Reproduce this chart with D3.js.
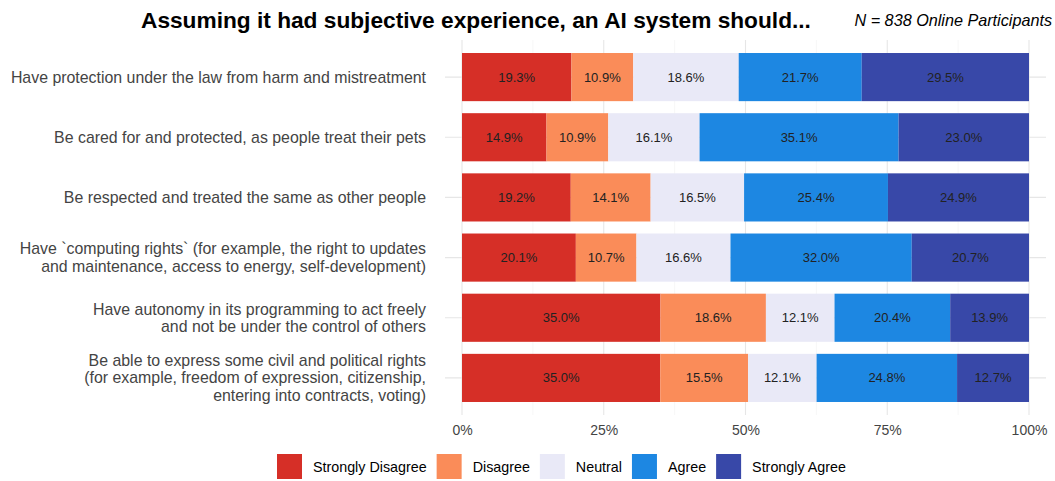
<!DOCTYPE html>
<html>
<head>
<meta charset="utf-8">
<script src="https://cdn.jsdelivr.net/npm/d3@7"></script>
<style>
  body { margin: 0; background: #fff; }
  text { font-family: "Liberation Sans", Arial, sans-serif; }
</style>
</head>
<body>
<div id="chart"></div>
<script>
// data
var categories = [
  ["Have protection under the law from harm and mistreatment"],
  ["Be cared for and protected, as people treat their pets"],
  ["Be respected and treated the same as other people"],
  ["Have `computing rights` (for example, the right to updates", "and maintenance, access to energy, self-development)"],
  ["Have autonomy in its programming to act freely", "and not be under the control of others"],
  ["Be able to express some civil and political rights", "(for example, freedom of expression, citizenship,", "entering into contracts, voting)"]
];
var responses = ["Strongly Disagree", "Disagree", "Neutral", "Agree", "Strongly Agree"];
var colors = ["#d62f27", "#fa8c59", "#e9e9f7", "#1d87e2", "#3848a8"];
var stronglyDisagree = [19.3, 14.9, 19.2, 20.1, 35.0, 35.0];
var disagree         = [10.9, 10.9, 14.1, 10.7, 18.6, 15.5];
var neutral          = [18.6, 16.1, 16.5, 16.6, 12.1, 12.1];
var agree            = [21.7, 35.1, 25.4, 32.0, 20.4, 24.8];
var stronglyAgree    = [29.5, 23.0, 24.9, 20.7, 13.9, 12.7];
var xTicks = [0, 25, 50, 75, 100];

var series = [stronglyDisagree, disagree, neutral, agree, stronglyAgree];

var svgWidth = 1055, svgHeight = 481;
var svg = d3.select("#chart").append("svg")
  .attr("width", svgWidth).attr("height", svgHeight);

var x = d3.scaleLinear().domain([0, 100]).range([462, 1029]);
var y = d3.scaleBand().domain(d3.range(categories.length)).range([47, 408]).paddingInner(0.2).paddingOuter(0.1);

// grid
var grid = svg.append("g");
d3.range(0, 101, 12.5).forEach(function(t) {
  grid.append("line")
    .attr("x1", x(t)).attr("x2", x(t))
    .attr("y1", 40).attr("y2", 415)
    .attr("stroke", t % 25 === 0 ? "#e6e6e6" : "#f2f2f2")
    .attr("stroke-width", t % 25 === 0 ? 1.1 : 0.6);
});
categories.forEach(function(c, i) {
  grid.append("line")
    .attr("x1", 445).attr("x2", 1046)
    .attr("y1", y(i) + y.bandwidth() / 2).attr("y2", y(i) + y.bandwidth() / 2)
    .attr("stroke", "#e6e6e6").attr("stroke-width", 1.1);
});

// stacked data
var rows = categories.map(function(c, i) {
  var total = d3.sum(series, function(s) { return s[i]; });
  var acc = 0;
  return series.map(function(s, k) {
    var v = s[i] / total * 100;
    var seg = { row: i, k: k, x0: acc, x1: acc + v, label: s[i].toFixed(1) + "%" };
    acc += v;
    return seg;
  });
});
var segs = d3.merge(rows);

svg.append("g").selectAll("rect")
  .data(segs)
  .enter()
  .append("rect")
  .attr("x", d => x(d.x0))
  .attr("width", d => x(d.x1) - x(d.x0))
  .attr("y", d => y(d.row))
  .attr("height", y.bandwidth())
  .attr("fill", d => colors[d.k]);

svg.append("g").selectAll("text")
  .data(segs)
  .enter()
  .append("text")
  .attr("x", d => (x(d.x0) + x(d.x1)) / 2)
  .attr("y", d => y(d.row) + y.bandwidth() / 2)
  .attr("dy", "0.35em")
  .attr("text-anchor", "middle")
  .attr("font-size", "13px")
  .attr("fill", "#222")
  .text(d => d.label);

// y labels
categories.forEach(function(lines, i) {
  var cy = y(i) + y.bandwidth() / 2;
  var lh = 17.5;
  var t = svg.append("text")
    .attr("text-anchor", "end")
    .attr("font-size", "15.9px")
    .attr("fill", "#444");
  lines.forEach(function(l, j) {
    t.append("tspan")
      .attr("x", 426)
      .attr("y", cy + (j - (lines.length - 1) / 2) * lh)
      .attr("dy", "0.35em")
      .text(l);
  });
});

// x axis
var xAxis = d3.axisBottom(x).tickValues(xTicks).tickSize(0).tickFormat(d => d + "%");
var gx = svg.append("g")
  .attr("transform", "translate(0,422)")
  .call(xAxis);
gx.select(".domain").remove();
gx.selectAll("text")
  .attr("font-size", "14px")
  .attr("fill", "#444")
  .attr("font-family", "Liberation Sans, Arial, sans-serif");

// title
svg.append("text")
  .attr("x", 141).attr("y", 28)
  .attr("font-size", "22.7px")
  .attr("font-weight", "bold")
  .attr("fill", "#000")
  .text("Assuming it had subjective experience, an AI system should...");

svg.append("text")
  .attr("x", 1052).attr("y", 26)
  .attr("text-anchor", "end")
  .attr("font-size", "16.2px")
  .attr("font-style", "italic")
  .attr("fill", "#000")
  .text("N = 838 Online Participants");

// legend
var lx = 277;
var legend = svg.append("g");
responses.forEach(function(r, k) {
  legend.append("rect")
    .attr("x", lx).attr("y", 454)
    .attr("width", 25).attr("height", 25)
    .attr("fill", colors[k]);
  var t = legend.append("text")
    .attr("x", lx + 36).attr("y", 467)
    .attr("dy", "0.35em")
    .attr("font-size", "14.3px")
    .attr("fill", "#000")
    .text(r);
  lx += 36 + t.node().getComputedTextLength() + 10;
});
</script>
</body>
</html>
